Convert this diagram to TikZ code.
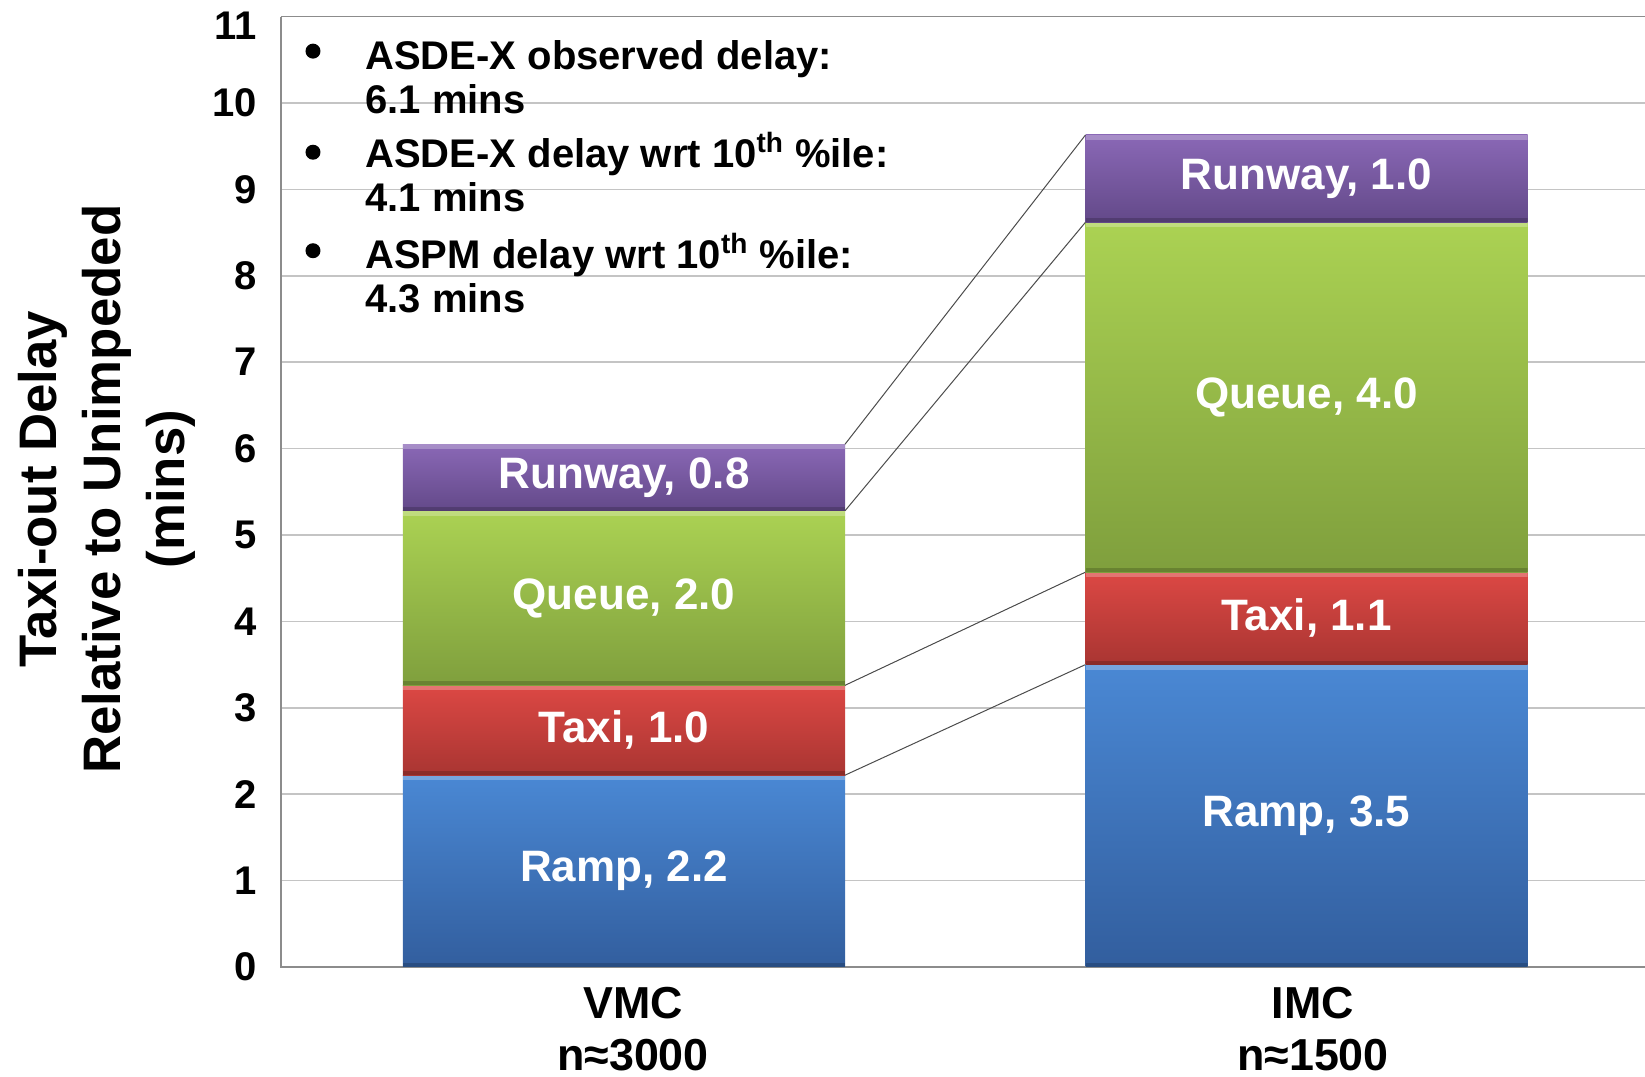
\documentclass[tikz,border=0pt]{standalone}
\usepackage{fontspec}
\setmainfont{Liberation Sans}
\usepackage{tikz}
\usetikzlibrary{positioning}
\definecolor{rampTop}{HTML}{4A88D4}
\definecolor{rampBot}{HTML}{325E9E}
\definecolor{taxiTop}{HTML}{DC4844}
\definecolor{taxiBot}{HTML}{A93532}
\definecolor{queueTop}{HTML}{ABD253}
\definecolor{queueBot}{HTML}{7F9F3D}
\definecolor{runwayTop}{HTML}{8A68B6}
\definecolor{runwayBot}{HTML}{634989}
\definecolor{gridgray}{HTML}{C4C4C4}
\definecolor{axisgray}{HTML}{8C8C8C}

\begin{document}
\begin{tikzpicture}[x=0.5pt, y=43.2pt,
  gridline/.style={draw=gridgray, line width=0.8pt},
  axisline/.style={draw=axisgray, line width=0.8pt},
  seriesline/.style={draw=black!70, line width=0.5pt},
  ticklabel/.style={anchor=east, inner sep=0pt, font=\fontsize{20pt}{22pt}\selectfont\bfseries},
  seg/.style={inner sep=0pt, outer sep=0pt, minimum width=221pt, text=white,
    font=\fontsize{22pt}{24pt}\selectfont\bfseries,
    path picture={
      \fill[white, opacity=0.25] (path picture bounding box.north west) rectangle ([yshift=-2.5pt]path picture bounding box.north east);
      \fill[black, opacity=0.18] (path picture bounding box.south west) rectangle ([yshift=2pt]path picture bounding box.south east);
    }},
  ramp/.style={seg, top color=rampTop, bottom color=rampBot},
  taxi/.style={seg, top color=taxiTop, bottom color=taxiBot},
  queue/.style={seg, top color=queueTop, bottom color=queueBot},
  runway/.style={seg, top color=runwayTop, bottom color=runwayBot},
  bulletdot/.style={circle, fill=black, inner sep=0pt, minimum size=7.5pt},
  note/.style={anchor=base west, align=left, inner sep=0pt, font=\fontsize{20pt}{22pt}\selectfont\bfseries},
  catlabel/.style={anchor=base, align=center, inner sep=0pt, font=\fontsize{22.4pt}{26pt}\selectfont\bfseries},
  ytitle/.style={rotate=90, align=center, inner sep=0pt, font=\fontsize{26.4pt}{32pt}\selectfont\bfseries}]
  \useasboundingbox (-281,-1.273) rectangle (1364,11.192);

  % grid and frame
  \foreach \v in {1,...,10}
    \draw[gridline] (0,\v) -- (1364,\v);
  \draw[axisline] (0,11) -- (1364,11);
  \draw[axisline] (0,11) -- (0,0) -- (1364,0);

  % y axis
  \foreach \v in {0,...,10}
    \node[ticklabel] (tick\v) at (-24,\v) {\v};
  \node[ticklabel] (tick11) at (-24,10.89) {11};
  \node[ytitle] (ytitle) at (-174.5,5.53) {Taxi-out Delay\\Relative to Unimpeded\\(mins)};

  % VMC stack
  \node[ramp, anchor=south, minimum height=2.22*43.2pt] (vmcramp) at (343,0) {Ramp, 2.2};
  \node[taxi, minimum height=1.04*43.2pt, above=0pt of vmcramp] (vmctaxi) {Taxi, 1.0};
  \node[queue, minimum height=2.02*43.2pt, above=0pt of vmctaxi] (vmcqueue) {Queue, 2.0};
  \node[runway, minimum height=0.77*43.2pt, above=0pt of vmcqueue] (vmcrunway) {Runway, 0.8};

  % IMC stack
  \node[ramp, anchor=south, minimum height=3.50*43.2pt] (imcramp) at (1025.5,0) {Ramp, 3.5};
  \node[taxi, minimum height=1.07*43.2pt, above=0pt of imcramp] (imctaxi) {Taxi, 1.1};
  \node[queue, minimum height=4.05*43.2pt, above=0pt of imctaxi] (imcqueue) {Queue, 4.0};
  \node[runway, minimum height=1.01*43.2pt, above=0pt of imcqueue] (imcrunway) {Runway, 1.0};

  % series lines
  \draw[seriesline] (vmcramp.north east) -- (imcramp.north west);
  \draw[seriesline] (vmctaxi.north east) -- (imctaxi.north west);
  \draw[seriesline] (vmcqueue.north east) -- (imcqueue.north west);
  \draw[seriesline] (vmcrunway.north east) -- (imcrunway.north west);

  % categories (base = last line)
  \node[catlabel] (vmc) at (352,-1.20) {VMC\\n≈3000};
  \node[catlabel] (imc) at (1032,-1.20) {IMC\\n≈1500};

  % notes (base = last line)
  \node[bulletdot] (dot1) at (32,10.60) {};
  \node[bulletdot] (dot2) at (32,9.43) {};
  \node[bulletdot] (dot3) at (32,8.29) {};
  \node[note] (asdeobs) at (84,9.88) {ASDE-X observed delay:\\6.1 mins};
  \node[note] (asdewrt) at (84,8.74) {ASDE-X delay wrt 10\textsuperscript{th} \%ile:\\4.1 mins};
  \node[note] (aspmwrt) at (84,7.57) {ASPM delay wrt 10\textsuperscript{th} \%ile:\\4.3 mins};
\end{tikzpicture}
\end{document}
